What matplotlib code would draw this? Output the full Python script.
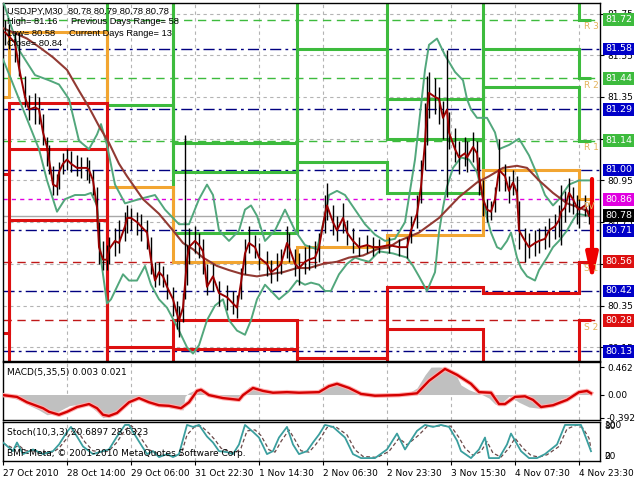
import matplotlib
matplotlib.use("Agg")
import matplotlib.pyplot as plt
import matplotlib.transforms as mtransforms

plt.rcParams['font.family'] = ['DejaVu Sans']

# ---------------- data ----------------
bar_x = [1, 3, 6, 8, 11, 13, 16, 18, 20, 22, 23, 25, 27, 28, 30, 32, 34, 37, 39, 42, 43, 45, 47, 48, 50,
         52, 53, 56, 58, 61, 62, 64, 67, 69, 72, 74, 76, 78, 80, 82, 85, 87, 88, 90, 91, 92, 93, 96, 98,
         100, 102, 105, 108, 112, 115, 117, 119, 121, 123, 126, 128, 132, 134, 137, 139, 142, 143, 146,
         148, 151, 153, 156, 158, 161, 162, 165, 167, 170, 172, 175, 178, 182, 185, 188, 193, 198, 202,
         204, 207, 209, 211, 212, 213, 216, 218, 220, 222, 223, 226, 228, 231, 232, 235, 237, 238, 240,
         242, 244, 246, 248, 251, 253, 255, 257, 258, 261, 263, 266, 268, 271, 273, 276, 278, 279, 281,
         283, 285, 287, 288, 291, 293]
bar_close = [81.66, 81.64, 81.61, 81.49, 81.35, 81.29, 81.30, 81.29, 81.18, 81.11, 81.05, 80.93, 80.92,
             80.99, 81.03, 81.05, 81.03, 81.01, 81.01, 81.01, 81.00, 80.95, 80.82, 80.63, 80.57, 80.57,
             80.62, 80.66, 80.65, 80.73, 80.77, 80.77, 80.75, 80.73, 80.70, 80.57, 80.47, 80.51, 80.49,
             80.44, 80.38, 80.31, 80.28, 80.34, 80.45, 80.57, 80.63, 80.66, 80.64, 80.61, 80.44, 80.49,
             80.41, 80.39, 80.36, 80.34, 80.46, 80.60, 80.65, 80.63, 80.58, 80.55, 80.51, 80.53, 80.55,
             80.65, 80.63, 80.55, 80.53, 80.56, 80.57, 80.58, 80.63, 80.79, 80.83, 80.75, 80.71, 80.77,
             80.70, 80.66, 80.63, 80.64, 80.63, 80.63, 80.64, 80.63, 80.63, 80.71, 80.79, 80.92, 81.13,
             81.29, 81.37, 81.35, 81.34, 81.25, 81.29, 81.18, 81.10, 81.06, 81.08, 81.06, 81.11, 81.08,
             80.97, 80.86, 80.81, 80.80, 80.86, 81.00, 80.97, 80.90, 80.94, 80.89, 80.71, 80.66, 80.63,
             80.65, 80.66, 80.67, 80.71, 80.73, 80.76, 80.80, 80.82, 80.89, 80.86, 80.82, 80.81, 80.83,
             80.78]
bar_high = [81.72, 81.70, 81.66, 81.66, 81.45, 81.36, 81.37, 81.35, 81.27, 81.16, 81.12, 81.02, 80.98,
            81.04, 81.08, 81.10, 81.09, 81.07, 81.06, 81.06, 81.05, 81.00, 80.92, 80.75, 80.66, 80.64,
            80.68, 80.72, 80.76, 80.80, 80.83, 80.82, 80.80, 80.79, 80.76, 80.68, 80.56, 80.56, 80.54,
            80.50, 80.44, 80.37, 80.35, 80.41, 81.17, 80.64, 80.72, 80.73, 80.70, 80.67, 80.55, 80.55,
            80.47, 80.45, 80.42, 80.40, 80.53, 80.67, 80.73, 80.69, 80.65, 80.61, 80.57, 80.60, 80.62,
            80.73, 80.70, 80.62, 80.60, 80.63, 80.64, 80.66, 80.70, 80.88, 80.94, 80.83, 80.78, 80.84,
            80.76, 80.72, 80.68, 80.69, 80.68, 80.67, 80.68, 80.67, 80.68, 80.78, 80.88, 81.05, 81.32,
            81.45, 81.47, 81.44, 81.40, 81.33, 81.575, 81.28, 81.20, 81.14, 81.16, 81.14, 81.18, 81.14,
            81.06, 80.95, 80.86, 80.85, 80.92, 81.15, 81.03, 80.97, 81.00, 80.97, 80.85, 80.72, 80.70,
            80.71, 80.72, 80.73, 80.77, 80.79, 80.83, 80.93, 80.90, 80.96, 80.92, 80.88, 80.86, 80.88,
            80.84]
bar_low = [81.60, 81.58, 81.52, 81.45, 81.30, 81.24, 81.22, 81.22, 81.12, 81.02, 80.98, 80.88, 80.88,
           80.91, 80.98, 81.00, 80.99, 80.97, 80.96, 80.95, 80.94, 80.88, 80.72, 80.55, 80.52, 80.52,
           80.55, 80.59, 80.60, 80.66, 80.70, 80.71, 80.69, 80.66, 80.62, 80.50, 80.44, 80.45, 80.44,
           80.38, 80.30, 80.24, 80.20, 80.27, 80.38, 80.45, 80.55, 80.60, 80.58, 80.50, 80.40, 80.42,
           80.35, 80.33, 80.31, 80.29, 80.38, 80.50, 80.60, 80.58, 80.52, 80.49, 80.46, 80.47, 80.50,
           80.58, 80.56, 80.49, 80.45, 80.50, 80.52, 80.53, 80.56, 80.70, 80.76, 80.69, 80.66, 80.70,
           80.64, 80.60, 80.59, 80.60, 80.59, 80.60, 80.60, 80.59, 80.58, 80.65, 80.72, 80.84, 81.00,
           81.12, 81.25, 81.27, 81.22, 81.15, 80.87, 81.10, 81.04, 80.98, 81.02, 80.99, 81.04, 81.00,
           80.88, 80.78, 80.75, 80.76, 80.80, 80.90, 80.90, 80.84, 80.88, 80.82, 80.62, 80.56, 80.58,
           80.59, 80.60, 80.62, 80.63, 80.67, 80.68, 80.64, 80.75, 80.80, 80.79, 80.74, 80.72, 80.78,
           80.74]

ma_x = [0, 5, 12, 18, 25, 32, 38, 43, 48, 53, 58, 62, 70, 78, 85, 90, 95, 100, 107, 113, 120, 127, 133,
        140, 147, 153, 160, 167, 173, 180, 187, 193, 198, 208, 218, 228, 237, 243, 250, 257, 262, 268,
        275, 282, 288, 293]
ma_y = [81.68, 81.66, 81.63, 81.59, 81.54, 81.48, 81.38, 81.30, 81.21, 81.13, 81.03, 80.97, 80.86,
        80.79, 80.71, 80.65, 80.62, 80.58, 80.54, 80.52, 80.50, 80.49, 80.50, 80.51, 80.53, 80.53,
        80.55, 80.56, 80.58, 80.59, 80.62, 80.63, 80.66, 80.70, 80.77, 80.87, 80.94, 80.97, 81.01,
        81.02, 81.01, 80.95, 80.89, 80.84, 80.82, 80.80]

bb_up_x = [0, 8, 16, 23, 28, 33, 38, 43, 47, 49, 52, 56, 61, 68, 76, 81, 88, 93, 98, 102, 105, 108,
           113, 118, 121, 124, 127, 131, 136, 141, 146, 151, 157, 161, 163, 167, 171, 176, 181, 186,
           191, 196, 201, 206, 211, 213, 217, 221, 226, 230, 232, 234, 237, 242, 246, 248, 253, 258,
           263, 267, 271, 275, 278, 283, 288, 293]
bb_up_y = [81.81, 81.575, 81.455, 81.43, 81.41, 81.34, 81.14, 81.10, 81.17, 81.22, 81.12, 80.93,
           80.84, 80.86, 80.88, 80.81, 80.74, 80.74, 80.86, 80.93, 80.88, 80.71, 80.66, 80.71, 80.81,
           80.83, 80.78, 80.66, 80.71, 80.81, 80.71, 80.64, 80.62, 80.78, 80.88, 80.90, 80.88, 80.81,
           80.74, 80.69, 80.66, 80.67, 80.75, 81.05, 81.48, 81.60, 81.63, 81.55, 81.47, 81.43, 81.34,
           81.29, 81.25, 81.25, 81.18, 81.10, 81.12, 81.15, 81.07, 80.98, 80.88, 80.83, 80.86, 80.93,
           80.95, 80.95]
bb_lo_x = [0, 3, 8, 13, 18, 22, 25, 27, 31, 36, 41, 44, 47, 49, 52, 54, 57, 60, 63, 67, 71, 74, 78,
           82, 87, 92, 95, 98, 102, 106, 110, 113, 117, 121, 124, 127, 131, 134, 138, 143, 147, 151,
           154, 158, 161, 164, 168, 172, 176, 179, 183, 188, 195, 202, 205, 208, 212, 216, 218, 220,
           222, 225, 229, 233, 237, 240, 242, 244, 247, 249, 252, 254, 257, 259, 262, 266, 268, 272,
           275, 278, 282, 285, 287, 293]
bb_lo_y = [81.53, 81.46, 81.34, 81.22, 81.10, 80.95, 80.86, 80.80, 80.86, 80.88, 80.88, 80.89, 80.83,
           80.57, 80.36, 80.38, 80.44, 80.50, 80.47, 80.47, 80.54, 80.45, 80.38, 80.34, 80.25, 80.15,
           80.12, 80.16, 80.28, 80.35, 80.38, 80.28, 80.23, 80.21, 80.28, 80.38, 80.45, 80.42, 80.38,
           80.42, 80.47, 80.45, 80.46, 80.45, 80.42, 80.42, 80.50, 80.55, 80.58, 80.57, 80.56, 80.61,
           80.60, 80.58, 80.54, 80.49, 80.42, 80.51, 80.70, 80.82, 80.92, 81.01, 81.06, 81.05, 80.99,
           80.87, 80.77, 80.70, 80.63, 80.62, 80.66, 80.70, 80.58, 80.53, 80.49, 80.47, 80.52, 80.58,
           80.63, 80.66, 80.71, 80.76, 80.79, 80.78]

# daily pivot levels (segments between day_edges)
day_edges = [0, 3, 52, 85, 147, 192, 240, 288, 294]
piv_r3 = [82.2, 82.2, 82.2, 81.13, 82.2, 81.34, 82.2, 81.72]
piv_r2 = [82.1, 82.1, 82.1, 80.99, 81.58, 81.15, 81.58, 81.44]
piv_r1 = [82.0, 82.0, 81.31, 80.70, 81.04, 80.89, 81.40, 81.14]
piv_pv = [81.35, 81.66, 80.92, 80.56, 80.63, 80.69, 81.00, 80.86]
piv_s1 = [80.98, 81.32, 80.15, 80.28, 80.10, 80.44, 80.41, 80.56]
piv_s2 = [80.22, 81.10, 79.95, 80.14, 79.95, 80.24, 79.95, 80.28]
piv_s3 = [79.90, 80.76, 79.90, 79.90, 79.90, 79.90, 79.90, 79.90]

today_r = [81.72, 81.44, 81.14]
today_mid = [81.58, 81.29, 81.00, 80.71, 80.42, 80.13]
today_pv = 80.86
today_s = [80.56, 80.28]
last_price = 80.78
level_names = ["R 3", "R 2", "R 1", "PV", "S 1", "S 2"]
level_for_names = [81.72, 81.44, 81.14, 80.86, 80.56, 80.28]

price_ticks = [81.75, 81.55, 81.35, 81.15, 80.95, 80.75, 80.55, 80.35, 80.15]
time_ticks = [0, 32, 64, 96, 128, 160, 192, 224, 256, 288]
time_labels = ["27 Oct 2010", "28 Oct 14:00", "29 Oct 06:00", "31 Oct 22:30", "1 Nov 14:30",
               "2 Nov 06:30", "2 Nov 23:30", "3 Nov 15:30", "4 Nov 07:30", "4 Nov 23:30"]

arrow_bar = 294.5
arrow_from = 80.97
arrow_to = 80.45

macd_x = [0, 3, 8, 13, 18, 22, 26, 29, 33, 38, 43, 47, 50, 53, 57, 61, 66, 71, 76, 81, 86, 90, 91, 93,
          97, 100, 103, 108, 116, 119, 121, 123, 127, 131, 136, 143, 151, 157, 161, 164, 168, 173, 178,
          183, 196, 203, 207, 211, 214, 218, 222, 226, 229, 233, 237, 240, 243, 246, 248, 251, 253,
          254, 258, 263, 268, 273, 278, 283, 287, 291, 294]
macd_main = [-0.01, -0.04, -0.09, -0.18, -0.26, -0.34, -0.32, -0.26, -0.19, -0.16, -0.18, -0.29,
             -0.39, -0.36, -0.26, -0.13, -0.04, -0.11, -0.19, -0.21, -0.23, -0.26, -0.03, 0.03, 0.09,
             0.06, -0.03, -0.06, -0.09, -0.08, 0.04, 0.13, 0.09, 0.06, 0.03, 0.04, 0.03, 0.04, 0.14,
             0.19, 0.16, 0.08, 0.01, -0.01, -0.01, 0.03, 0.11, 0.33, 0.46, 0.462, 0.45, 0.36, 0.16,
             0.08, 0.03, -0.01, -0.06, -0.16, -0.18, -0.09, -0.03, -0.04, -0.13, -0.21, -0.23, -0.18,
             -0.09, -0.03, 0.06, 0.06, 0.003]
sig_x = [0, 7, 12, 20, 23, 28, 32, 37, 43, 47, 50, 53, 57, 63, 68, 73, 78, 83, 89, 93, 97, 99, 103,
         110, 118, 120, 125, 130, 135, 142, 148, 158, 163, 167, 173, 179, 186, 198, 204, 207, 213,
         221, 227, 234, 238, 244, 248, 251, 256, 261, 265, 269, 275, 282, 288, 292, 294]
sig_vals = [-0.01, -0.04, -0.13, -0.23, -0.29, -0.34, -0.29, -0.21, -0.16, -0.23, -0.34, -0.36,
            -0.31, -0.13, -0.06, -0.13, -0.18, -0.19, -0.23, -0.13, 0.06, 0.08, -0.01, -0.06, -0.09,
            -0.01, 0.11, 0.06, 0.03, 0.04, 0.03, 0.04, 0.14, 0.18, 0.11, 0.01, -0.02, -0.01, 0.01,
            0.02, 0.23, 0.43, 0.33, 0.18, 0.04, 0.03, -0.16, -0.16, -0.04, -0.03, -0.09, -0.21, -0.18,
            -0.09, 0.04, 0.06, 0.021]

stoch_x = [0, 5, 7, 10, 15, 20, 25, 28, 32, 34, 37, 40, 45, 50, 53, 57, 61, 63, 65, 68, 72, 75, 78,
           82, 85, 88, 92, 95, 98, 102, 105, 108, 112, 115, 118, 121, 125, 128, 132, 135, 138, 142,
           145, 148, 152, 155, 158, 161, 165, 171, 175, 179, 186, 192, 197, 201, 207, 211, 215, 219,
           223, 227, 229, 234, 238, 241, 243, 248, 252, 254, 259, 263, 267, 271, 277, 281, 286, 289,
           292, 294]
stoch_main = [47, 21, 47, 12, 26, 12, 21, 41, 79, 94, 65, 35, 12, 21, 26, 65, 100, 100, 79, 50, 12,
              21, 3, 12, 3, 12, 100, 94, 100, 65, 47, 21, 18, 12, 41, 100, 79, 62, 12, 21, 62, 94, 41,
              12, 21, 47, 71, 100, 94, 62, 12, 0, 0, 26, 74, 26, 82, 100, 94, 100, 94, 53, 21, 0, 26,
              62, 0, 0, 41, 74, 21, 0, 0, 12, 41, 100, 100, 100, 53, 20.69]
stoch_sig_x = [0, 5, 8, 11, 15, 20, 25, 28, 32, 35, 38, 41, 45, 50, 53, 57, 61, 64, 66, 69, 73, 76,
               79, 83, 86, 89, 92, 96, 99, 103, 106, 109, 113, 116, 119, 122, 126, 129, 133, 136,
               139, 143, 146, 149, 153, 156, 159, 162, 166, 172, 176, 180, 187, 193, 198, 202, 208,
               212, 216, 220, 224, 228, 231, 235, 239, 242, 245, 249, 253, 256, 260, 264, 268, 272,
               278, 282, 287, 290, 293, 294]
stoch_sig = [45, 30, 38, 22, 22, 16, 18, 30, 60, 85, 75, 48, 22, 18, 22, 48, 85, 98, 88, 60, 25, 18,
             8, 8, 6, 9, 70, 96, 97, 75, 55, 30, 20, 15, 30, 82, 85, 68, 25, 18, 50, 85, 55, 22, 18,
             38, 62, 92, 96, 70, 25, 5, 2, 20, 60, 40, 70, 95, 96, 98, 96, 62, 30, 8, 20, 50, 15, 3,
             30, 60, 30, 8, 3, 10, 35, 88, 100, 90, 60, 28.63]

# ---------------- styling constants ----------------
GREEN = "#3dbb3d"
BLUE = "#0000c8"
MAGENTA = "#e000e0"
RED = "#dd1010"
ORANGE = "#f2a531"
BAND = "#52a77c"
MA_C = "#923a33"
GRID = "#b4b4b4"
FS = 6.5

fig = plt.figure(figsize=(6.4, 4.8), dpi=100)
fig.patch.set_facecolor("white")


def rect(l, t, r, b):
    return [l / 640, 1 - b / 480, (r - l) / 640, (b - t) / 480]


ax = fig.add_axes(rect(3, 3, 600, 361))
ax2 = fig.add_axes(rect(3, 362, 600, 420))
ax3 = fig.add_axes(rect(3, 422, 600, 461))

XMAX = 298.5
for a in (ax, ax2, ax3):
    a.set_xlim(0, XMAX)
    a.set_facecolor("white")
    for s in a.spines.values():
        s.set_color("black")
        s.set_linewidth(1)
    for t in time_ticks[1:]:
        a.axvline(t, color=GRID, lw=0.8, ls=(0, (3, 3)), zorder=0)
    a.set_xticks(time_ticks)
    a.tick_params(axis="x", length=0, labelbottom=False)
    a.yaxis.tick_right()
    a.tick_params(axis="y", labelsize=FS, length=3, width=0.8, pad=2, colors="black")

# ---------- main panel ----------
ax.set_ylim(80.0843, 81.8005)
ax.set_yticks(price_ticks)
ax.set_yticklabels([f"{v:.2f}" for v in price_ticks])
for v in price_ticks:
    ax.axhline(v, color=GRID, lw=0.8, ls=(0, (3, 3)), zorder=0)

for v in today_r:
    ax.axhline(v, color=GREEN, lw=1, ls=(0, (6, 4)), zorder=1)
for v in today_mid:
    ax.axhline(v, color="#000080", lw=1, ls=(0, (8, 3, 2, 3)), zorder=1)
ax.axhline(today_pv, color=MAGENTA, lw=1, ls=(0, (3, 3)), zorder=1)
for v in today_s:
    ax.axhline(v, color="#c01818", lw=1, ls=(0, (6, 4)), zorder=1)
ax.axhline(last_price, color="#a8a8a8", lw=1, zorder=1)

for vals in (piv_r1, piv_r2, piv_r3):
    ax.stairs(vals, day_edges, baseline=None, color=GREEN, lw=2.2, zorder=2)
ax.stairs(piv_pv, day_edges, baseline=None, color=ORANGE, lw=2.2, zorder=2)
for vals in (piv_s1, piv_s2, piv_s3):
    ax.stairs(vals, day_edges, baseline=None, color=RED, lw=2.2, zorder=2)

ax.plot(bb_up_x, bb_up_y, color=BAND, lw=1.4, zorder=3)
ax.plot(bb_lo_x, bb_lo_y, color=BAND, lw=1.4, zorder=3)
ax.plot(ma_x, ma_y, color=MA_C, lw=1.5, zorder=4)
ax.vlines(bar_x, bar_low, bar_high, color="black", lw=1.0, zorder=5)
ax.plot(bar_x, bar_close, color="#9a0000", lw=1.4, zorder=6)

ax.annotate("", xy=(arrow_bar, arrow_to), xytext=(arrow_bar, arrow_from),
            arrowprops=dict(arrowstyle="-|>,head_length=1.6,head_width=0.35",
                            color="#ee0000", lw=3), zorder=7)

for name, v in zip(level_names, level_for_names):
    ax.text(290.3, v - 0.034, name, fontsize=FS, color="#e3b25a", va="center", ha="left", zorder=7)

# right side coloured price labels
trans = mtransforms.blended_transform_factory(ax.transAxes, ax.transData)
boxes = [(v, GREEN) for v in today_r] + [(v, BLUE) for v in today_mid] + \
        [(today_pv, MAGENTA), (last_price, "black")] + [(v, RED) for v in today_s]
for v, c in boxes:
    ax.text(1.0085, v, f"{v:.2f}", transform=trans, fontsize=FS + 0.3, color="white",
            va="center", ha="left", clip_on=False, zorder=10,
            bbox=dict(boxstyle="square,pad=0.2", fc=c, ec="none"))

# info text
info = [("USDJPY,M30  80.78 80.79 80.78 80.78", 7, 11),
        ("High= 81.16", 7, 22), ("Previous Days Range= 58", 71, 22),
        ("Low= 80.58", 7, 33), ("Current Days Range= 13", 69, 33),
        ("Close= 80.84", 7, 44)]
for txt, px, py in info:
    fig.text(px / 640, 1 - py / 480, txt, fontsize=6.7, family="Liberation Sans",
             color="black", va="center", ha="left", zorder=20)

# ---------- MACD panel ----------
ax2.set_ylim(-0.428, 0.546)
ax2.fill_between(macd_x, 0, macd_main, color="#c0c0c0", lw=0, zorder=2)
ax2.plot(sig_x, sig_vals, color="#ffb0b0", lw=3.2, zorder=3)
ax2.plot(sig_x, sig_vals, color="#d40000", lw=1.7, zorder=4)
ax2.set_yticks([0.462, 0.0, -0.392])
ax2.set_yticklabels(["0.462", "0.00", "-0.392"])
ax2.text(0.006, 0.82, "MACD(5,35,5) 0.003 0.021", transform=ax2.transAxes,
         fontsize=FS, va="center", ha="left")

# ---------- Stochastic panel ----------
ax3.set_ylim(-8.8, 108.8)
ax3.plot(stoch_sig_x, stoch_sig, color="#6a4848", lw=0.9, ls=(0, (3, 2)), zorder=2)
ax3.plot(stoch_x, stoch_main, color="#3a9e9e", lw=1.3, zorder=3)
ax3.set_yticks([])
ax3.tick_params(axis="y", length=0)
st_trans = mtransforms.blended_transform_factory(ax3.transAxes, ax3.transData)
for txt, val in (("100", 97), ("80", 95), ("20", 6), ("0", 4)):
    ax3.text(1.008, val, txt, transform=st_trans, fontsize=FS, va="center", ha="left", clip_on=False)
ax3.text(0.006, 0.74, "Stoch(10,3,3) 20.6897 28.6323", transform=ax3.transAxes,
         fontsize=FS, va="center", ha="left")
ax3.text(0.006, 0.2, "BMF-Meta, \u00a9 2001-2010 MetaQuotes Software Corp.", transform=ax3.transAxes,
         fontsize=FS, va="center", ha="left")

ax3.set_xticks(time_ticks)
ax3.set_xticklabels(time_labels)
ax3.tick_params(axis="x", labelbottom=True, length=3, width=0.8, labelsize=FS, pad=3, direction="out")
for lbl in ax3.get_xticklabels():
    lbl.set_ha("left")

fig.savefig("out.png", dpi=100, facecolor="white")
